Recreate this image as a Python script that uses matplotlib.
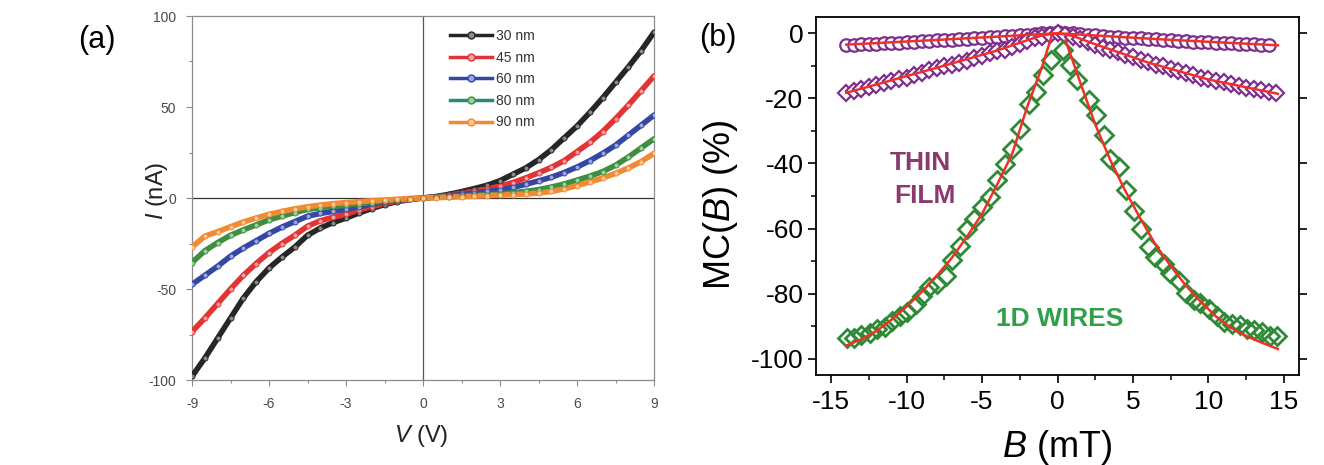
import numpy as np
import matplotlib
matplotlib.use("Agg")
import matplotlib.pyplot as plt
from matplotlib.ticker import MultipleLocator

plt.rcParams['font.family'] = ['Liberation Sans', 'DejaVu Sans']
plt.rcParams['mathtext.fontset'] = 'custom'
plt.rcParams['mathtext.rm'] = 'Liberation Sans'
plt.rcParams['mathtext.it'] = 'Liberation Sans:italic'
plt.rcParams['axes.unicode_minus'] = False

# ---------------- Panel (a): I-V curves ----------------
V = np.arange(-9, 9.01, 0.5)
labels_a = ['30 nm', '45 nm', '60 nm', '80 nm', '90 nm']
I_30 = [-98, -88, -77, -66, -55, -46, -38.5, -32.5, -27, -20.5, -16.5, -13.5, -11, -8.3, -5.8, -3.6, -2, -0.8, 0,
        0.8, 2, 3.5, 5.2, 7, 9.5, 13, 16.5, 21, 26.5, 33, 39.5, 47, 55, 63.5, 72, 81, 91]
I_45 = [-73.5, -66, -58, -50, -42.5, -36, -30, -25, -20.5, -15.5, -12.5, -10.5, -9, -6.5, -4.8, -3, -1.7, -0.7, 0,
        0.6, 1.5, 2.6, 3.8, 5, 6.5, 8.5, 11, 13.8, 16.8, 20.5, 25.5, 30.5, 36.5, 43.5, 51, 59, 67]
I_60 = [-47.5, -42.5, -37.5, -32, -27.5, -23.5, -19.5, -16, -13, -10, -8.5, -7.3, -6.3, -4.8, -3.5, -2.3, -1.3, -0.5, 0,
        0.5, 1.2, 2, 2.8, 3.6, 4.5, 5.8, 7.5, 9.4, 11.4, 14, 17, 20.5, 24.5, 29, 34.5, 40, 45.5]
I_80 = [-35.5, -29, -24.5, -20.5, -17.5, -14.8, -12, -10, -8, -6.3, -5.3, -4.6, -4, -3.2, -2.5, -1.8, -1.1, -0.5, 0,
        0.3, 0.7, 1.1, 1.4, 1.8, 2.2, 2.9, 3.6, 4.6, 6, 7.7, 9.8, 12, 14.5, 18, 22.5, 27.5, 32.5]
I_90 = [-27, -21, -18.5, -15.8, -13.2, -11, -9, -7.4, -6, -4.8, -3.9, -3.1, -2.5, -2, -1.5, -1.1, -0.7, -0.3, 0,
        0.2, 0.4, 0.7, 1, 1.3, 1.6, 1.9, 2.2, 2.7, 3.6, 5, 6.8, 8.8, 11, 13.5, 16.5, 20, 24.5]
series_a = [I_30, I_45, I_60, I_80, I_90]
colors_a = ['#262626', '#E23434', '#3447A3', '#3E8E41', '#F08A33']
face_a = ['#8a8a8a', '#f4a0a0', '#9aa6dc', '#9fd0a0', '#f9c79a']
legend_line_a = ['#262626', '#E23434', '#3447A3', '#2A8A78', '#F08A33']
vticks = [-9, -6, -3, 0, 3, 6, 9]
iticks = [-100, -50, 0, 50, 100]

# ---------------- Panel (b): magnetoconductance ----------------
B_circ = np.arange(-14, 14.01, 0.5)
MC_circ = [-3.5, -3.5, -3.4, -3.3, -3.2, -3.1, -3.0, -2.9, -2.8, -2.6, -2.5, -2.4, -2.2, -2.1, -2.0, -1.8, -1.7,
           -1.5, -1.4, -1.2, -1.1, -0.9, -0.8, -0.6, -0.4, -0.2, 0.0, 0.2, 0.4, 0.2, 0.0, -0.2, -0.4, -0.6, -0.8,
           -1.0, -1.1, -1.3, -1.4, -1.6, -1.7, -1.9, -2.0, -2.2, -2.3, -2.5, -2.6, -2.7, -2.8, -2.9, -3.0, -3.1,
           -3.2, -3.3, -3.4, -3.5, -3.6]
B_dpur = np.arange(-14, 14.51, 0.5)
MC_dpur = [-18.3, -17.8, -17.2, -16.6, -16.0, -15.2, -14.7, -14.0, -13.6, -12.8, -12.3, -11.4, -10.8, -10.1,
           -9.8, -9.0, -8.6, -7.6, -7.0, -6.2, -5.6, -5.0, -4.2, -3.3, -2.4, -1.6, -1.0, -0.5, 0.0, -0.4, -1.0,
           -1.8, -2.6, -3.6, -4.4, -5.0, -5.8, -6.6, -7.4, -8.1, -8.8, -9.6, -10.2, -11.0, -11.6, -12.3, -12.9,
           -13.6, -14.0, -14.6, -15.1, -15.7, -16.2, -16.7, -17.1, -17.5, -17.9, -18.2]
B_green = [-13.93, -13.49, -13.0, -12.45, -11.94, -11.44, -10.95, -10.46, -9.95, -9.40, -8.96, -8.52, -7.97,
           -7.42, -6.98, -6.49, -5.98, -5.50, -4.99, -4.44, -3.99, -3.51, -3.00, -2.50, -1.92, -1.41, -0.95,
           -0.40, 0.36, 0.81, 1.30, 2.07, 2.52, 3.07, 3.51, 4.06, 4.57, 5.05, 5.50, 6.05, 6.49, 7.04, 7.48,
           8.04, 8.54, 9.03, 9.47, 10.02, 10.58, 11.01, 11.57, 12.12, 12.56, 13.05, 13.56, 14.11, 14.55]
MC_green = [-93.6, -93.6, -92.6, -92.2, -90.9, -90.4, -88.3, -86.8, -85.7, -83.2, -80.6, -78.1, -77.0, -74.5,
            -69.8, -65.4, -60.1, -57.0, -53.4, -50.4, -45.2, -40.1, -35.5, -29.3, -21.6, -18.0, -12.9, -8.1,
            -5.0, -9.8, -14.5, -20.6, -25.2, -31.4, -38.6, -41.1, -48.3, -54.5, -60.1, -65.7, -68.6, -70.9,
            -73.7, -76.0, -79.9, -82.0, -83.0, -84.7, -86.8, -88.8, -89.3, -89.5, -90.9, -91.2, -91.9, -92.9,
            -92.9]
# red fit curves
fitc_B = [-14, -7, 0, 7, 14.6]
fitc_MC = [-3.5, -1.8, 0.0, -1.9, -3.7]
fitd_left_B = [-14, -8, -4, -2.3, -1, 0]
fitd_left_MC = [-18.3, -10.6, -5.3, -2.6, -0.6, 0]
fitd_right_B = [0, 1, 2.4, 6, 10, 14.6]
fitd_right_MC = [0, -0.8, -3.2, -9.0, -14.2, -18.6]
fitg_left_B = [-14, -13, -12, -11, -10, -9, -8, -7, -6, -5, -4, -3, -2, -1, -0.4]
fitg_left_MC = [-96, -94, -91.5, -88, -84, -79.5, -74.5, -69, -62.5, -55.5, -46.5, -37, -22.5, -10, -1]
fitg_right_B = [0.53, 1.5, 2.5, 3.5, 4.5, 5.5, 6.5, 7.5, 8.5, 9.5, 10.5, 11.5, 12.5, 13.5, 14.6]
fitg_right_MC = [-2.2, -15, -28, -39, -48.5, -57, -65, -71.5, -77.5, -82.5, -87, -90.5, -93, -95, -97]
bticks = [-15, -10, -5, 0, 5, 10, 15]
mcticks = [0, -20, -40, -60, -80, -100]

purple = '#7E2F8E'
green = '#2F8A38'
redfit = '#EE3124'

fig = plt.figure(figsize=(13.24, 4.65), dpi=100)

# ---------- panel a ----------
axa = fig.add_axes([192/1324, 1-380/465, 462/1324, 364/465])
gray = '#8c8c8c'
axa.axhline(0, color='#333333', lw=0.9, zorder=1)
axa.axvline(0, color='#555555', lw=0.9, zorder=1)
for I, c, fc, lc, lab in zip(series_a, colors_a, face_a, legend_line_a, labels_a):
    axa.plot(V, I, '-', color=c, lw=4.0, zorder=3, solid_capstyle='round')
    axa.plot(V, I, 'o', ms=3.6, mfc=fc, mec=c, mew=0.7, zorder=4)
    axa.plot([], [], '-', color=lc, lw=2.5, marker='o', ms=5, mfc=fc, mec=c, mew=1, label=lab)
axa.set_xlim(-9, 9)
axa.set_ylim(-100, 100)
axa.set_xticks(vticks)
axa.set_yticks(iticks)
axa.xaxis.set_minor_locator(MultipleLocator(1.5))
axa.yaxis.set_minor_locator(MultipleLocator(25))
for s in axa.spines.values():
    s.set_color(gray)
    s.set_linewidth(0.9)
axa.tick_params(which='both', direction='out', color=gray, labelcolor='#4a4a4a', labelsize=10)
axa.tick_params(which='major', length=4.5, width=0.8)
axa.tick_params(which='minor', length=2.5, width=0.8)
axa.tick_params(axis='x', pad=8)
axa.tick_params(axis='y', pad=7)
leg = axa.legend(loc='upper left', bbox_to_anchor=(0.535, 0.995), frameon=False, fontsize=10,
                 handlelength=3.0, handletextpad=0.3, labelspacing=0.55, numpoints=1, borderpad=0.3)
for t in leg.get_texts():
    t.set_color('#333333')

fig.text(157/1324, 1-191/465, r'$\mathit{I}$ (nA)', rotation=90, ha='center', va='center', fontsize=17,
         color='#222222')
fig.text(421/1324, 1-436/465, r'$\mathit{V}$ (V)', ha='center', va='center', fontsize=17, color='#222222')
fig.text(97/1324, 1-40/465, '(a)', ha='center', va='center', fontsize=22)

# ---------- panel b ----------
axb = fig.add_axes([816/1324, 1-375/465, 483/1324, 358/465])
axb.plot(B_circ, MC_circ, 'o', ms=9, mfc='white', mec=purple, mew=1.6, zorder=3)
axb.plot(B_dpur, MC_dpur, 'D', ms=8, mfc='white', mec=purple, mew=1.6, zorder=3)
axb.plot(B_green, MC_green, 'D', ms=9, mfc='none', mec=green, mew=2.0, zorder=3)
for xb, yb in [(fitc_B, fitc_MC), (fitd_left_B, fitd_left_MC), (fitd_right_B, fitd_right_MC),
               (fitg_left_B, fitg_left_MC), (fitg_right_B, fitg_right_MC)]:
    axb.plot(xb, yb, '-', color=redfit, lw=1.8, zorder=5)
axb.set_xlim(-16, 16)
axb.set_ylim(-105, 5)
axb.set_xticks(bticks)
axb.set_yticks(mcticks)
axb.xaxis.set_minor_locator(MultipleLocator(2.5))
axb.yaxis.set_minor_locator(MultipleLocator(10))
for s in axb.spines.values():
    s.set_linewidth(1.3)
axb.tick_params(which='both', direction='out', labelsize=19, color='black')
axb.tick_params(which='major', length=6, width=1.2)
axb.tick_params(which='minor', length=3.5, width=1.1)
axb.tick_params(axis='x', pad=5)
axb.tick_params(axis='y', pad=3)
axb.tick_params(axis='y', which='major', right=True)
axb.text(0.217, 0.592, 'THIN', transform=axb.transAxes, ha='center', va='center', fontsize=19,
         fontweight='bold', color='#8B3A6E')
axb.text(0.226, 0.500, 'FILM', transform=axb.transAxes, ha='center', va='center', fontsize=19,
         fontweight='bold', color='#8B3A6E')
axb.text(0.505, 0.156, '1D WIRES', transform=axb.transAxes, ha='center', va='center', fontsize=19,
         fontweight='bold', color='#2EA04A')
fig.text(720/1324, 1-205/465, r'MC($\mathit{B}$) (%)', rotation=90, ha='center', va='center', fontsize=26)
fig.text(1057/1324, 1-447/465, r'$\mathit{B}$ (mT)', ha='center', va='center', fontsize=26)
fig.text(718/1324, 1-38/465, '(b)', ha='center', va='center', fontsize=22)

fig.savefig('out.png', dpi=100)
